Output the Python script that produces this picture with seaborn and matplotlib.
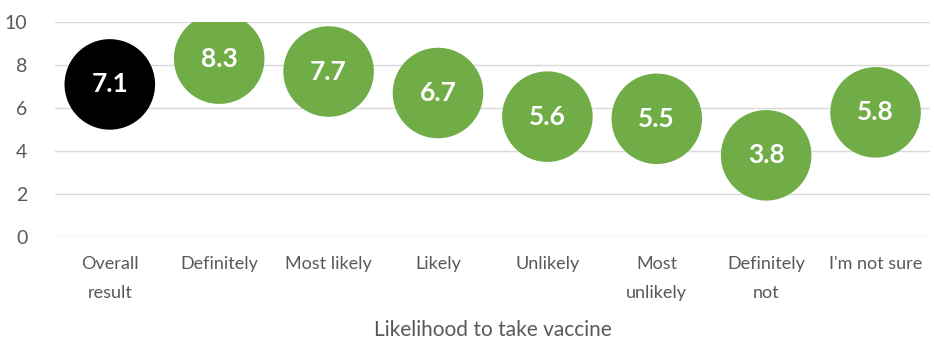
import matplotlib
matplotlib.use("Agg")
import matplotlib.pyplot as plt
import seaborn as sns
import pandas as pd

categories = ["Overall\nresult", "Definitely", "Most likely", "Likely",
              "Unlikely", "Most\nunlikely", "Definitely\nnot", "I'm not sure"]
scores = [7.1, 8.3, 7.7, 6.7, 5.6, 5.5, 3.8, 5.8]
groups = ["overall", "answer", "answer", "answer", "answer", "answer", "answer", "answer"]

sns.set_theme(style="white")
plt.rcParams["font.family"] = ["Lato", "DejaVu Sans"]

df = pd.DataFrame({"category": categories, "score": scores, "group": groups})

fig = plt.figure(figsize=(9.34, 3.4), dpi=100)
ax = fig.add_axes([0.059, 0.303, 0.937, 0.632])

sns.scatterplot(data=df, x="category", y="score", hue="group",
                palette={"overall": "#000000", "answer": "#70AD47"},
                s=4250, linewidth=0, legend=False, ax=ax, zorder=3)

for i, v in enumerate(scores):
    ax.text(i, v, f"{v:.1f}", ha="center", va="center", color="white",
            fontsize=19, fontweight="bold", zorder=4)

ax.set_ylim(0, 10)
ax.set_xlim(-0.5, len(categories) - 0.5)
ax.set_yticks(range(0, 11, 2))
ax.yaxis.grid(True, color="#D9D9D9", linewidth=1)
ax.set_axisbelow(True)
for s in ax.spines.values():
    s.set_visible(False)
ax.tick_params(axis="both", length=0, labelsize=13, colors="#595959")
ax.tick_params(axis="y", labelsize=14, pad=20)
ax.tick_params(axis="x", pad=14)
ax.set_xticks(range(len(categories)))
ax.set_xticklabels(categories, linespacing=1.95)
ax.set_ylabel("")
ax.set_xlabel("Likelihood to take vaccine", fontsize=15, color="#595959", labelpad=14)

fig.savefig("out.png", dpi=100)
